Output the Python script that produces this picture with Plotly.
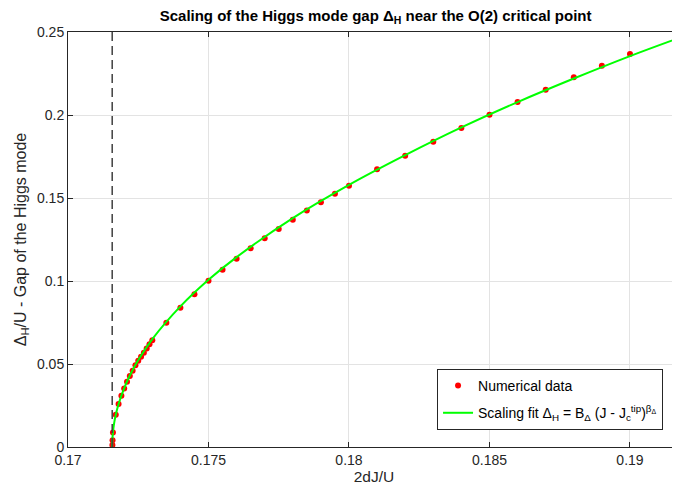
import plotly.graph_objects as go

# Numerical data
data_x = [0.17158, 0.171585, 0.1716,
          0.1717, 0.1718, 0.1719, 0.1720, 0.1721, 0.1722, 0.1723, 0.1724, 0.1725,
          0.1726, 0.1727, 0.1728, 0.1729, 0.1730,
          0.1735, 0.1740, 0.1745, 0.1750, 0.1755, 0.1760, 0.1765, 0.1770, 0.1775,
          0.1780, 0.1785, 0.1790, 0.1795, 0.1800,
          0.181, 0.182, 0.183, 0.184, 0.185, 0.186, 0.187, 0.188, 0.189, 0.190]
data_y = [0.0012, 0.0040, 0.0088,
          0.0195, 0.0259, 0.0309, 0.0353, 0.0393, 0.0428, 0.0460, 0.0492, 0.0520,
          0.0544, 0.0568, 0.0594, 0.0619, 0.0643,
          0.0748, 0.0839, 0.0920, 0.1002, 0.1068, 0.1134, 0.1197, 0.1257, 0.1313,
          0.1369, 0.1424, 0.1474, 0.1526, 0.1574,
          0.1673, 0.1755, 0.1839, 0.1922, 0.2002, 0.2078, 0.2152, 0.2227, 0.2297, 0.2367]

# Scaling fit curve
fit_x = [0.171573, 0.171575, 0.17158, 0.17159, 0.1716, 0.17162, 0.17165, 0.1717,
         0.1718, 0.1720, 0.1722, 0.1725, 0.1730, 0.1740, 0.1750, 0.1760, 0.1780,
         0.1800, 0.1820, 0.1840, 0.1860, 0.1880, 0.1900, 0.1920]
fit_y = [0.0, 0.0024, 0.0046, 0.0071, 0.0089, 0.0118, 0.0151, 0.0194,
         0.0259, 0.0355, 0.0431, 0.0524, 0.0650, 0.0847, 0.1007, 0.1144, 0.1379,
         0.1579, 0.1758, 0.1925, 0.2078, 0.2220, 0.2355, 0.2480]

# Critical point J_c^tip
jc_tip = 0.171573

x_ticks = [0.17, 0.175, 0.18, 0.185, 0.19]
x_tick_labels = ["0.17", "0.175", "0.18", "0.185", "0.19"]
y_ticks = [0, 0.05, 0.1, 0.15, 0.2, 0.25]
y_tick_labels = ["0", "0.05", "0.1", "0.15", "0.2", "0.25"]

FONT = "Liberation Sans, Arial, Helvetica, sans-serif"
AX = "#262626"
GRID = "#e3e3e3"

fig = go.Figure()
fig.add_trace(go.Scatter(
    x=data_x, y=data_y, mode="markers", name="Numerical data", legendgroup="a",
    marker=dict(color="#ff0000", size=6, line=dict(width=0)),
))
fig.add_trace(go.Scatter(
    x=fit_x, y=fit_y, mode="lines", line_shape="spline", legendgroup="b",
    name="Scaling fit Δ<sub>H</sub> = B<sub>Δ</sub> (J - J<sub>c</sub><sup>tip</sup>)<sup>β<sub>Δ</sub></sup>",
    line=dict(color="#00ff00", width=2),
))
fig.add_vline(x=jc_tip, line=dict(color="#404040", width=1.5, dash="9px,5px"))

# page has an 8px body margin: figure is 672x480 placed at (8, 8)
fig.update_layout(
    width=672, height=480,
    margin=dict(l=60, r=0, t=24, b=41, autoexpand=False),
    paper_bgcolor="white", plot_bgcolor="white",
    font=dict(family=FONT, size=14, color=AX),
    title=dict(
        text="<b>Scaling of the Higgs mode gap Δ<sub>H</sub> near the O(2) critical point</b>",
        x=0.547, xanchor="center", y=0.995, yanchor="top",
        font=dict(family=FONT, size=15, color="#000000"),
        automargin=False,
    ),
    showlegend=True,
    legend=dict(
        x=0.603, y=0.188, xanchor="left", yanchor="top",
        bgcolor="white", bordercolor=AX, borderwidth=1,
        font=dict(family=FONT, size=14, color="#000000"),
        tracegroupgap=6,
    ),
    xaxis=dict(
        range=[0.17, 0.19178], tickvals=x_ticks, ticktext=x_tick_labels,
        showgrid=True, gridcolor=GRID, gridwidth=1, zeroline=False,
        showline=True, linecolor=AX, linewidth=1, mirror="ticks",
        ticks="inside", ticklen=5, tickcolor=AX, automargin=False,
        tickfont=dict(family=FONT, size=14, color=AX),
        title=dict(text="2dJ/U", font=dict(family=FONT, size=15.5, color=AX), standoff=0),
    ),
    yaxis=dict(
        range=[0, 0.25], tickvals=y_ticks, ticktext=y_tick_labels,
        showgrid=True, gridcolor=GRID, gridwidth=1, zeroline=False,
        showline=True, linecolor=AX, linewidth=1, automargin=False,
        ticks="inside", ticklen=5, tickcolor=AX,
        tickfont=dict(family=FONT, size=14, color=AX),
        title=dict(text="Δ<sub>H</sub>/U - Gap of the Higgs mode",
                   font=dict(family=FONT, size=16, color=AX), standoff=6),
    ),
)

fig.write_html("out.html")
